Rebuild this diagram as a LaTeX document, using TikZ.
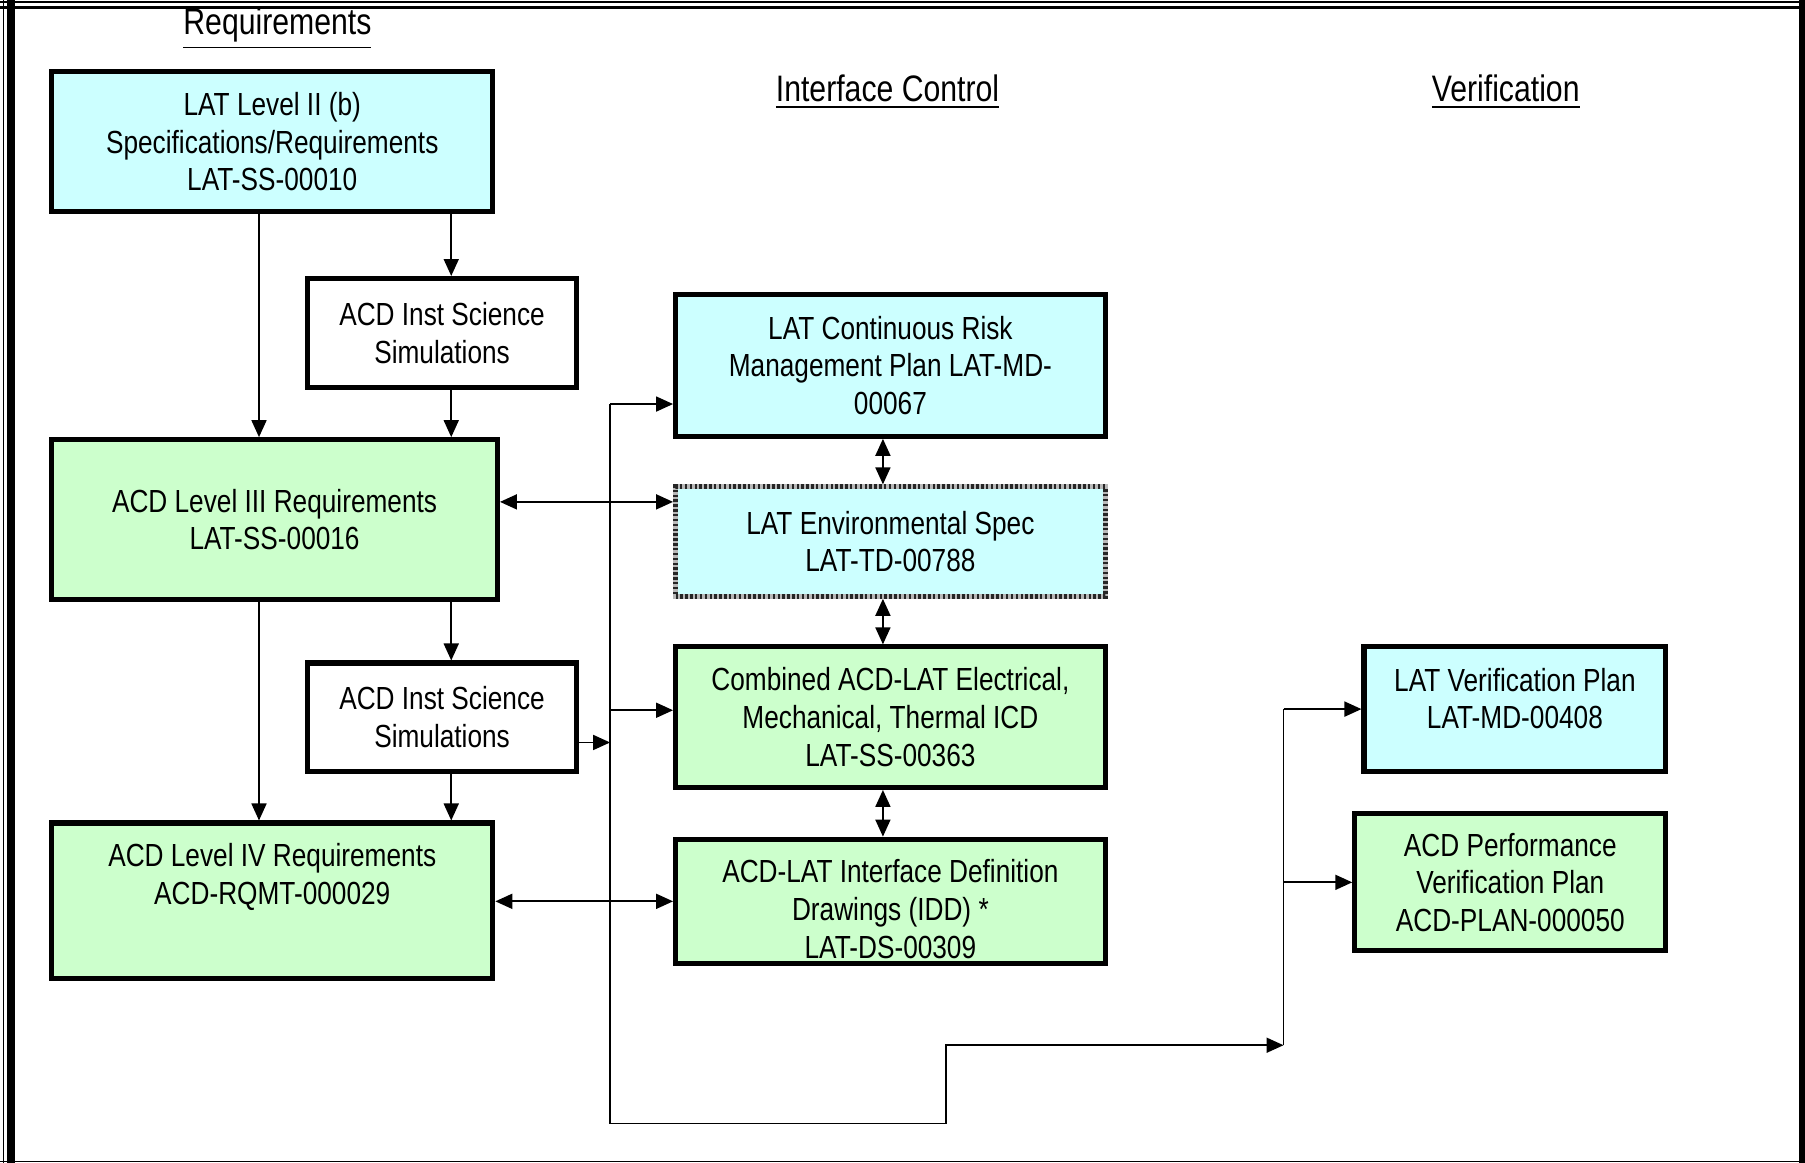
\documentclass[tikz,border=0pt]{standalone}
\usepackage{fontspec}
\setmainfont{Liberation Sans}[FakeStretch=0.82]
\usetikzlibrary{arrows.meta}
\definecolor{cyanfill}{HTML}{CCFFFF}
\definecolor{greenfill}{HTML}{CCFFCC}

\begin{document}
\begin{tikzpicture}[x=0.01cm, y=-0.01cm,
  >={Triangle[length=4.2pt,width=3.7pt]},
  link/.style={line width=0.45pt},
  doc/.style={draw=black, line width=1.25pt, align=center, inner sep=0pt,
    font=\fontsize{7.9}{9.3}\selectfont},
  cyanbox/.style={doc, fill=cyanfill},
  greenbox/.style={doc, fill=greenfill},
  plainbox/.style={doc, fill=white},
  envbox/.style={cyanbox, draw=gray!55,
    postaction={draw=black!85, line width=1.25pt, dash pattern=on 0.6pt off 0.6pt}},
  heading/.style={font=\fontsize{9.1}{11}\selectfont}]
\useasboundingbox (0,0) rectangle (1568,1010);

% frame
\draw[line width=0.3pt] (0,1.8) -- (1568,1.8);
\draw[line width=0.75pt] (0,6.8) -- (1563,6.8);
\draw[line width=0.4pt] (3,0) -- (3,1010);
\draw[line width=2pt] (9.5,0) -- (9.5,1010);
\draw[line width=1.4pt] (1565.5,0) -- (1565.5,1010);
\draw[line width=0.4pt] (0,1009) -- (1568,1009);

\node[heading] (hdReq) at (241,25) {\underline{Requirements}};
\node[heading] (hdIcd) at (771,80) {\underline{Interface Control}};
\node[heading] (hdVer) at (1308,80) {\underline{Verification}};

\node[cyanbox, minimum width=3.83cm, minimum height=1.22cm] (req2) at (236.5,123) {LAT Level II (b)\\Specifications/Requirements\\LAT-SS-00010};
\node[plainbox, minimum width=2.34cm, minimum height=0.95cm] (sim1) at (384,289.5) {ACD Inst Science\\Simulations};
\node[greenbox, minimum width=3.87cm, minimum height=1.39cm] (req3) at (238.5,451.5) {ACD Level III Requirements\\LAT-SS-00016};
\node[plainbox, minimum width=2.34cm, minimum height=0.94cm] (sim2) at (384,623) {ACD Inst Science\\Simulations};
\node[greenbox, minimum width=3.83cm, minimum height=1.35cm] (req4) at (236.5,782.5) {ACD Level IV Requirements\\ACD-RQMT-000029\\[4pt]~};

\node[cyanbox, minimum width=3.73cm, minimum height=1.23cm] (risk) at (773.5,317.5) {LAT Continuous Risk\\Management Plan LAT-MD-\\00067};
\node[envbox, minimum width=3.73cm, minimum height=0.95cm] (env) at (773.5,470.5) {LAT Environmental Spec\\LAT-TD-00788};
\node[greenbox, minimum width=3.73cm, minimum height=1.22cm] (comb) at (773.5,623) {Combined ACD-LAT Electrical,\\Mechanical, Thermal ICD\\LAT-SS-00363};
\node[greenbox, minimum width=3.73cm, minimum height=1.08cm] (idd) at (773.5,783) {\rule{0pt}{9.5pt}ACD-LAT Interface Definition\\Drawings (IDD) *\\LAT-DS-00309};

\node[cyanbox, minimum width=2.62cm, minimum height=1.08cm] (verplan) at (1316,616) {LAT Verification Plan\\LAT-MD-00408\\[-4pt]~};
\node[greenbox, minimum width=2.70cm, minimum height=1.19cm] (acdperf) at (1312,766.5) {ACD Performance\\Verification Plan\\ACD-PLAN-000050};

\coordinate (colA) at (225,0);
\coordinate (colB) at (392,0);
\coordinate (colC) at (767,0);
\coordinate (rowA) at (0,436);
\coordinate (busTop) at (530,351);
\coordinate (busMid) at (530,617);
\coordinate (busIn) at (530,645);
\coordinate (busBot) at (530,976);
\coordinate (stepUp) at (822,908);
\coordinate (feedIn) at (1115,908);

\draw[link,->] (req2.south -| colA) -- (req3.north -| colA);
\draw[link,->] (req2.south -| colB) -- (sim1.north -| colB);
\draw[link,->] (sim1.south -| colB) -- (req3.north -| colB);
\draw[link,->] (req3.south -| colA) -- (req4.north -| colA);
\draw[link,->] (req3.south -| colB) -- (sim2.north -| colB);
\draw[link,->] (sim2.south -| colB) -- (req4.north -| colB);

\draw[link,<->] (req3.east |- rowA) -- (env.west |- rowA);
\draw[link,<->] (req4.east |- idd.west) -- (idd.west);
\draw[link,<->] (risk.south -| colC) -- (env.north -| colC);
\draw[link,<->] (env.south -| colC) -- (comb.north -| colC);
\draw[link,<->] (comb.south -| colC) -- (idd.north -| colC);

\draw[link,->] (busTop) -- (risk.west |- busTop);
\draw[link,->] (busMid) -- (comb.west |- busMid);
\draw[link,->] (sim2.east |- busIn) -- (busIn);
\draw[link,->] (busTop) -- (busBot) -| (stepUp) -- (feedIn);
\draw[link] (feedIn) -- (feedIn |- verplan.west);
\draw[link,->] (feedIn |- verplan.west) -- (verplan.west);
\draw[link,->] (feedIn |- acdperf.west) -- (acdperf.west);

\end{tikzpicture}
\end{document}
